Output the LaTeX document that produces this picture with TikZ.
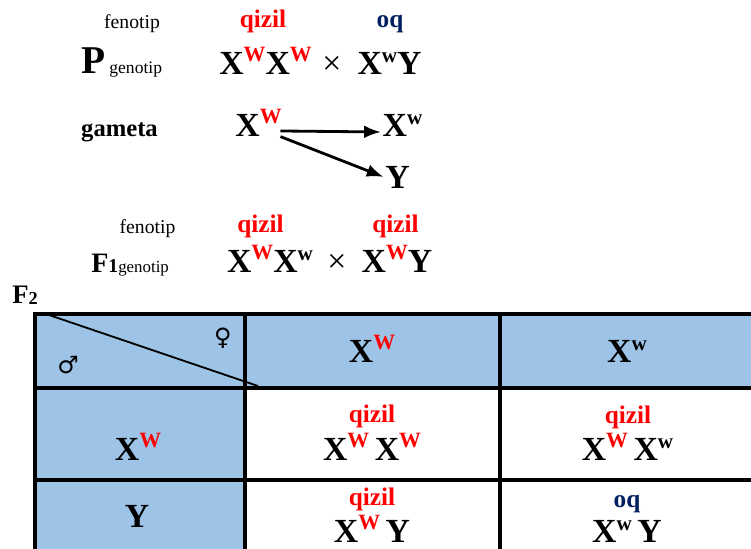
\documentclass[tikz,border=0pt]{standalone}
\usepackage{fontspec}
\setmainfont{Liberation Serif}
\newfontfamily\symfont{DejaVu Sans}
\usetikzlibrary{positioning, arrows.meta}

\definecolor{cellblue}{RGB}{157,195,230}
\definecolor{oqblue}{RGB}{0,32,96}

% superscript alleles
\newcommand{\domW}{\raisebox{9pt}{\fontsize{15.5}{15}\selectfont\textcolor{red}{W}}}
\newcommand{\recw}{\raisebox{8.5pt}{\fontsize{15}{15}\selectfont w}}

\begin{document}
\begin{tikzpicture}[
    x=0.025cm, y=-0.025cm,
    >={Latex[length=12pt, width=9pt]},
    geno/.style   = {font=\fontsize{24}{28}\selectfont\bfseries, inner sep=0pt, anchor=base},
    cross/.style  = {font=\fontsize{24}{26}\selectfont, inner sep=0pt, anchor=base},
    pheno/.style  = {font=\fontsize{14}{16}\selectfont, inner sep=0pt, anchor=base},
    red/.style    = {font=\fontsize{18}{20}\selectfont\bfseries, text=red, inner sep=0pt, anchor=base},
    white/.style  = {font=\fontsize{18}{20}\selectfont\bfseries, text=oqblue, inner sep=0pt, anchor=base},
    gridline/.style = {line width=2.8pt, line cap=rect},
    sym/.style    = {font=\symfont\fontsize{17}{20}\selectfont, inner sep=0pt},
]
\useasboundingbox (0,0) rectangle (751,548);
\clip (0,0) rectangle (751,548);

% parents
\node[pheno] (pfen) at (132,28) {fenotip};
\node[red]   (pqm)  at (263,27) {qizil};
\node[white] (pqf)  at (390,27) {oq};
\node[font=\fontsize{28}{30}\selectfont\bfseries, inner sep=0pt, anchor=base] (plab) at (94,73) {P};
\node[font=\fontsize{12.5}{14}\selectfont, inner sep=0pt, base right=2pt of plab] (pgen) {genotip};
\node[geno]  (pmom)   at (265.5,74) {X\domW X\domW};
\node[cross] (pcross) at (332,74) {×};
\node[geno]  (pdad)   at (389.5,74) {X\recw Y};

% gametes
\node[font=\fontsize{17.5}{20}\selectfont\bfseries, inner sep=0pt, anchor=base] (gam) at (119.5,136) {gameta};
\node[geno, inner sep=1pt] (gW) at (258.5,136) {X\domW};
\node[geno, inner sep=1pt] (gw) at (402.5,136) {X\recw};
\node[geno, inner sep=1pt] (gY) at (397.5,188) {Y};
\draw[->, line width=2pt] ([xshift=-2pt, yshift=-6pt]gW.east) -- ([yshift=-5pt]gw.west);
\draw[->, line width=2pt] ([xshift=-2pt, yshift=-10pt]gW.east) -- (gY.west);

% first generation
\node[pheno] (ffen) at (147.5,233) {fenotip};
\node[red]   (fq1)  at (260.5,232) {qizil};
\node[red]   (fq2)  at (395.5,232) {qizil};
\node[font=\fontsize{20}{22}\selectfont\bfseries, inner sep=0pt, anchor=base west] (f1lab) at (91,272)
    {F{\fontsize{14}{14}\selectfont 1}{\fontsize{12}{14}\selectfont\mdseries genotip}};
\node[geno]  (f1mom)   at (270,272) {X\domW X\recw};
\node[cross] (f1cross) at (337,272) {×};
\node[geno]  (f1dad)   at (397,272) {X\domW Y};

% second generation
\node[font=\fontsize{19}{22}\selectfont\bfseries, inner sep=0pt, anchor=base west] (f2lab) at (12,303)
    {F{\fontsize{13}{14}\selectfont\raisebox{-1pt}{2}}};

% punnett square
\fill[cellblue] (35,314) rectangle (760,388);
\fill[cellblue] (35,388) rectangle (245,560);
\foreach \yy in {314,388,480}
    \draw[gridline] (35,\yy) -- (760,\yy);
\foreach \xx in {35,245,500}
    \draw[gridline] (\xx,314) -- (\xx,560);
\draw[line width=1.3pt] (49,315) -- (258,386);
\node[sym] (fem) at (223,338) {♀};
\node[sym] (mal) at (68,365) {♂};

\node[geno] (hW) at (372,362) {X\domW};
\node[geno] (hw) at (627,362) {X\recw};
\node[geno] (rW) at (138,460) {X\domW};
\node[geno] (rY) at (137,527) {Y};

\node[red]  (c11q) at (372,422) {qizil};
\node[geno] (c11g) at (372,460) {X\domW\hspace{4pt}X\domW};
\node[red]  (c12q) at (628,423) {qizil};
\node[geno] (c12g) at (627.5,460) {X\domW\hspace{4pt}X\recw};
\node[red]  (c21q) at (372,505) {qizil};
\node[geno] (c21g) at (372,542) {X\domW\hspace{4pt}Y};
\node[white] (c22q) at (627,507) {oq};
\node[geno] (c22g) at (627,542) {X\recw\hspace{4pt}Y};

\end{tikzpicture}
\end{document}
